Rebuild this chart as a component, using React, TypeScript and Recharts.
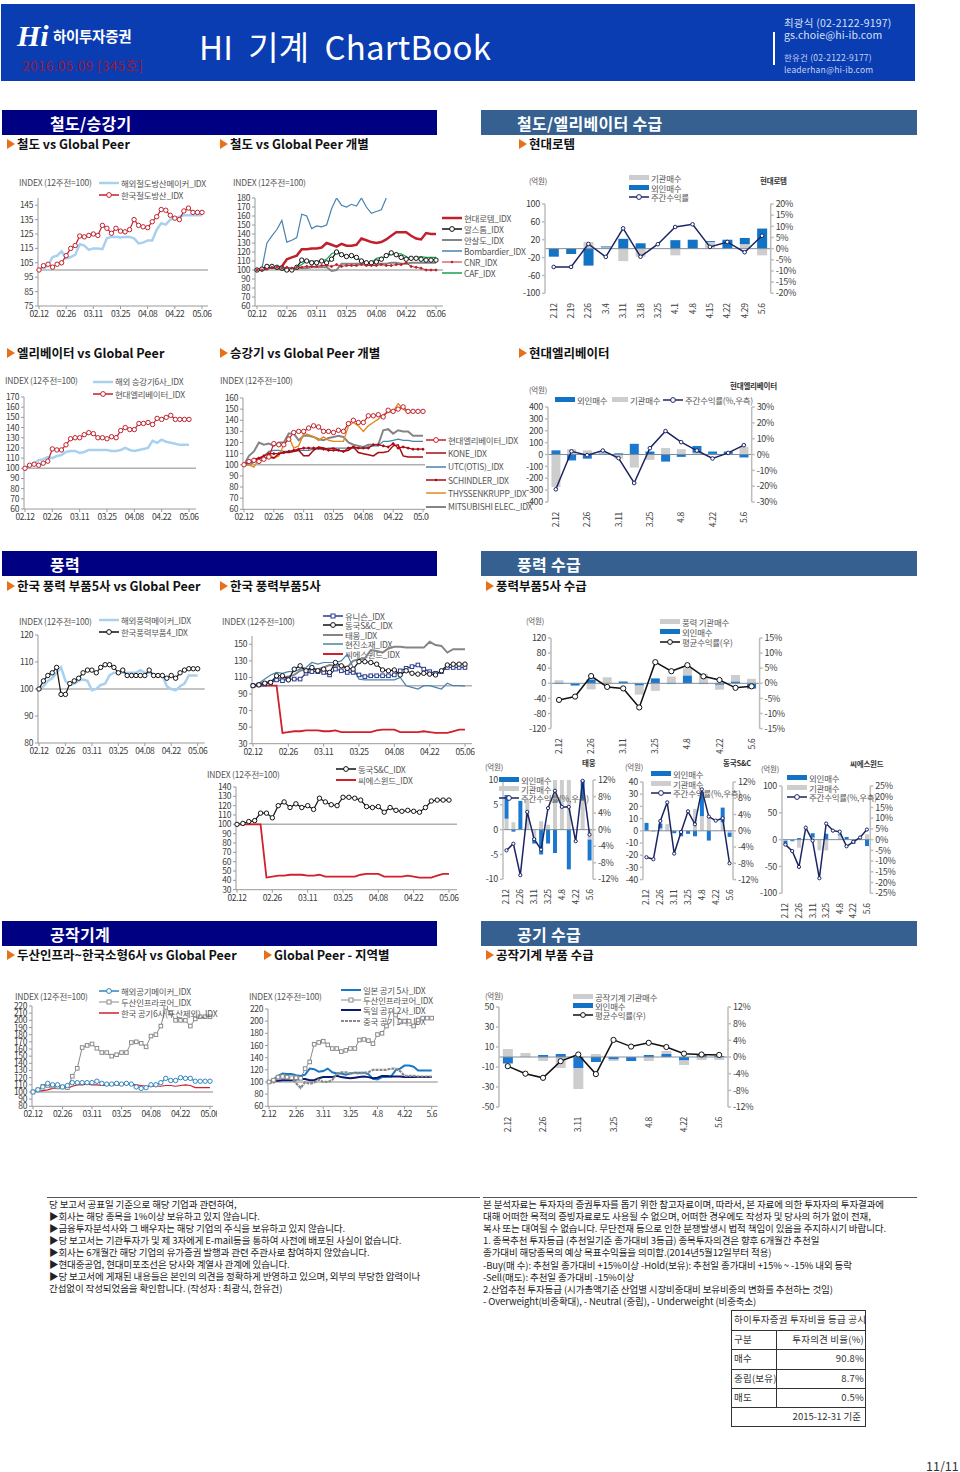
import { ComposedChart, Line, Bar, XAxis, YAxis, ReferenceLine } from 'recharts';

const FONT = '"Noto Sans CJK KR", "Noto Sans", sans-serif';

// roughly every other trading day, labels show only every 6th
const DATES = [
  '02.12', '02.15', '02.17', '02.19', '02.22', '02.24', '02.26', '02.29', '03.02', '03.04', '03.07', '03.09', '03.11',
  '03.14', '03.16', '03.18', '03.21', '03.23', '03.25', '03.28', '03.30', '04.01', '04.04', '04.06', '04.08',
  '04.11', '04.13', '04.15', '04.18', '04.20', '04.22', '04.25', '04.27', '04.29', '05.02', '05.04', '05.06',
];
const WEEKS = ['2.12', '2.19', '2.26', '3.4', '3.11', '3.18', '3.25', '4.1', '4.8', '4.15', '4.22', '4.29', '5.6'];

// chart 1, 2
const RAIL_FOREIGN = [100, 101, 103, 109, 110, 113, 108, 109, 110.5, 118, 117, 114, 115, 115, 114.5, 122, 123, 123, 122.5, 123, 123, 122, 118.5, 119, 120.5, 120.5, 128, 132.5, 131.5, 135, 136, 137, 138, 138, 138, 138, 138];
const RAIL_KOREA = [100, 103, 104, 102, 104, 105, 110, 115, 117, 123.6, 123, 124, 125, 124, 131, 129, 125.5, 129, 127, 126.5, 128, 135, 131, 130, 129.4, 133.5, 137, 142, 141.5, 138, 136, 135, 141, 143, 140, 140, 140];
const ROTEM = [100, 101, 103, 103, 102, 104, 112, 114, 116, 123, 123, 124, 124, 125, 130, 128, 126, 129, 127, 127, 128, 135, 133, 131, 130, 131, 134, 138, 142, 142, 142, 138, 135, 134, 141, 140, 140];
const ALSTOM = [100, 101, 104, 104, 103, 102, 100, 100, 103, 111, 110, 108, 108, 110, 108, 112, 120, 117, 115, 116, 114, 110, 108, 108, 109, 112, 116, 119, 117, 114, 112, 113, 113, 112, 111, 111, 111];
const ANSALDO = [100, 100, 101, 103, 102, 101, 101, 100, 102, 102, 102, 103, 103, 103, 103, 99, 100, 107, 107, 107, 107, 107, 107, 107, 107, 107, 107, 108, 108, 107, 107, 108, 108, 108, 108, 108, 108];
const BOMBARDIER = [100, 102, 130, 138, 145, 155, 131, 133, 136, 162, 160, 146, 149, 148, 150, 168, 180, 172, 170, 173, 171, 180, 170, 163, 165, 167, 180, null, null, null, null, null, null, null, null, null, null];
const CNR = [100, 100, 101, 103, 103, 102, 103, 102, 103, 103, 104, 104, 104, 105, 105, 104, 106, 104, 105, 105, 105, 106, 105, 105, 105, 106, 105, 105, 106, 106, 108, 104, 103, 102, 100, 100, 100];
const CAF = [100, 100, 103, 103, 102, 100, 99, 100, 103, 106, 110, 110, 110, 110, 112, 118, 120, 118, 115, 115, 113, 111, 108, 108, 113, 114, 114, 118, 118, 118, 115, 112, 114, 115, 114, 114, 114];

// chart 3, 4
const ELEV_FOREIGN = [100, 102, 105, 108, 109, 111, 110, 112, 113, 116, 117, 117, 115, 116, 118, 118, 118, 118, 118, 117, 117, 118, 120, 118, 117, 118, 119, 120, 127, 125, 128, 126, 125, 124, 123, 123, 123];
const HD_ELEV = [100, 103, 104, 103, 105, 107, 119, 118, 118, 123, 129, 130, 130, 133, 135, 134, 130, 130, 129, 131, 130, 137, 140, 138, 138, 144, 144, 145, 143, 149, 148, 150, 152, 148, 148, 148, 148];
const KONE = [100, 102, 103, 106, 106, 107, 106, 110, 111, 111, 112, 113, 108, 108, 113, 116, 115, 114, 115, 113, 112, 113, 116, 111, 110, 109, 108, 111, 111, 112, 117, 118, 108, 107, 107, 107, 107];
const UTC = [100, 100, 102, 105, 108, 112, 113, 113, 112, 112, 112, 113, 113, 113, 114, 114, 114, 115, 115, 115, 115, 115, 115, 115, 115, 116, 117, 117, 121, 121, 122, 123, 122, 122, 121, 121, 121];
const SCHINDLER = [100, 103, 105, 106, 108, 110, 110, 110, 111, 112, 113, 114, 115, 115, 115, 115, 114, 113, 113, 113, 112, 115, 116, 115, 115, 115, 118, 118, 117, 116, 119, 115, 116, 115, 114, 114, 114];
const THYSSEN = [100, 100, 98, 105, 108, 110, 106, 108, 118, 125, 115, 117, 128, 127, 125, 122, 125, 122, 121, 121, 121, 135, 138, 135, 130, 135, 138, 141, 145, 147, 148, 155, 150, 147, 148, 148, 148];
const MITSUBISHI = [100, 108, 112, 120, 118, 119, 117, 120, 120, 128, 128, 122, 126, 126, 125, 123, 122, 124, 125, 126, 125, 120, 118, 117, 116, 118, 118, 118, 131, 132, 128, 131, 130, 130, 126, 126, 126];

// chart 5 - 9
const WIND_FOREIGN = [100, 101, 103, 104, 106, 108, 103, 101.5, 102, 103, 103.5, 103, 99.5, 100, 101.5, 102, 105, 106, 106, 106, 106, 106, 106, 107, 106, 106, 105.5, 105, 105, 101, 100, 99.5, 101, 102, 105, 105, 105];
const WIND_KOREA = [100, 103, 105, 106, 108, 98, 98, 102, 103, 104, 106, 107, 107, 106, 108, 109, 109, 108, 106, 107, 105, 105, 105, 105, 105, 107, 105, 105, 105, 104, 105, 104, 106, 107, 107.5, 107.5, 107.5];
const UNISON = [100, 101, 102, 104, 107, 106, 108, 108, 108, 115, 117, 117, 116, 113, 120, 118, 116, 116, 113, 111, 112, 112, 112, 112, 113, 118, 121, 123, 125, 120, 117, 115, 117, 122, 122, 122, 122];
const DONGKUK = [100, 101, 103, 104, 112, 112, 107, 120, 124, 118, 122, 118, 120, 116, 128, 124, 121, 120, 129, 129, 128, 126, 119, 118, 119, 113, 118, 115, 114, 115, 114, 113, 118, 125, 126, 126, 126];
const TAEWOONG = [100, 102, 104, 105, 108, 110, 111, 113, 118, 120, 120, 120, 122, 125, 124, 124, 122, 130, 132, 133, 143, 142, 140, 145, 147, 147, 146, 146, 146, 146, 153, 149, 148, 140, 144, 144, 144];
const HYUNJIN = [100, 103, 108, 113, 116, 115, 117, 117, 120, 122, 128, 126, 128, 128, 128, 130, 138, 122, 108, 107, 107, 107, 107, 107, 107, 110, 100, 98, 96, 100, 100, 98, 96, 103, 100, 100, 99.5];
const CSWIND = [100, 100, 100, 100, 100, 43, 44, 45, 45, 46, 46, 46, 45, 45, 46, 44, 44, 44, 44, 44, 44, 46, 47, 47, 47, 44, 44, 44, 44, 45, 44, 43, 43, 43, 45, 47, 47];

// chart 10, 11
const TOOL_FOREIGN = [100, 103, 107, 112, 110, 110, 107, 109, 113, 113, 113, 113, 113, 115, 112, 111, 111, 112, 111, 112, 111, 107, 105, 106, 110, 110, 113, 119, 116, 116, 120, 119, 119, 115, 115, 115, 115];
const DOOSAN = [100, 103, 108, 109, 108, 107, 107, 106, 122, 133, 162, 165, 167, 161, 155, 155, 150, 152, 155, 155, 169, 170, 168, 163, 178, 180, 192, 218, 210, 200, 200, 200, 192, 202, 205, 205, 205];
const TOOL_KOREA = [100, 101, 102, 103, 105, 105, 106, 105, 108, 110, 110, 111, 110, 110, 109, 109, 110, 110, 110, 111, 111, 110, 109, 108, 108, 108, 108, 109, 109, 108, 109, 110, 109, 106, 106, 106, 106];
const TOOL_JAPAN = [100, 104, 110, 114, 113, 113, 111, 110, 112, 122, 121, 117, 118, 122, 116, 114, 114, 112, 114, 115, 115, 115, 113, 105, 104, 108, 108, 109, 119, 122, 127, 127, 125, 119, 119, 119, 119];
const TOOL_GERMANY = [100, 102, 102, 103, 103, 103, 104, 105, 105, 103, 103, 106, 108, 108, 108, 110, 108, 107, 106, 107, 108, 109, 108, 106, 107, 110, 110, 109, 109, 109, 108, 108, 108, 108, 108, 108, 108];
const TOOL_CHINA = [100, 99, 108, 110, 108, 106, 98, 90, 100, 97, 99, 104, 100, 100, 103, 114, 116, 116, 114, 115, 114, 115, 116, 120, 120, 120, 120, 122, 122, 118, 110, 110, 110, 109, 109, 109, 109];

// weekly flows (억원) and returns (%)
const ROTEM_INST = [0, 0, 15, 3, -28, -18, 0, -15, 0, 15, 0, 10, -15];
const ROTEM_FRGN = [-18, -12, -38, 2, 22, 12, 0, 19, 20, 2, 20, 14, 45];
const ROTEM_RET = [-8.2, -8.2, 2.1, -3.7, 9.1, -3.6, 2, 9.7, 10.9, 0.8, 3, -1.6, 5.8];
const ELEV_FRGN = [35, -50, -35, 5, 10, 90, 25, -60, -20, 57, 20, 20, -25];
const ELEV_INST = [-275, 45, 35, 10, -35, -110, -45, 55, 45, 15, 5, 5, 65];
const ELEV_RET = [-22, 2, -0.4, 2.5, -2.3, -18, 4, 14.8, 7.8, 2.5, -2.5, 1, 5.9];
const WIND_FRGN = [-2, -6, 10, 0, 5, -6, 13, -2, 21, -2, -4, 5, -14];
const WIND_INST = [8, 0, -16, 16, 1, -24, -20, 18, 19, 25, -13, 17, 12];
const WIND_RET = [-5.5, -4.4, 2.4, -1.2, -1.7, -8, 7, 4, 6, 2.3, 1.1, -1.5, -1];
const TW_INST = [2.2, 1.5, 0, 6, -1.8, 1.7, 1, 10, 10, 10, 0, 6, -2];
const TW_FRGN = [4.8, -0.4, 5.8, 0, -1, -5, -2.8, -4.7, 0, -8, 0, 4, -4.2];
const TW_RET = [-5, -3.4, -11, 4.3, -2.3, -4.8, 5.2, 9.4, 5.5, 5.5, -2.8, 11.8, -1.2];
const DK_INST = [0, -1, 2, 5.5, 0, -0.5, 0, 18, 12, 12, 0.5, 7, -1.5];
const DK_FRGN = [6.5, 0, 4, 0, -2, -4, -2.5, -4.5, 20, -8, 0, 12, -3.5];
const DK_RET = [-6.5, -7, 2.4, 7, -5.6, -0.3, 4.8, 1.6, 10.2, 3.5, 2.5, 3.1, -8];
const CS_FRGN = [-8, -2, 3, 0, 8, 0, 11, 0, 2, 5, -6, 0, -12];
const CS_INST = [-2, -1, -15, 2, 4, -20, -20, 1, 8, 0, -2, 1, 10];
const CS_RET = [-2.3, -5.3, -12.7, 5.6, -0.5, -18, 7.5, 4.2, 3.7, -3.1, -1, 1, 4.7];
const TOOL_FRGN = [-6.5, 0, 2, 3, -11, -5, -2.5, -4, 2, 3, -3.5, 2, 1];
const TOOL_INST = [8, 4, -4, -11, -21, 3, -1.5, 0, -4, 3, -4.5, -3, -3];
const TOOL_RET = [-2.2, -4, -5, -1, 0.6, -4.1, 4.1, 2.5, 3.4, 2.4, 0.8, 0.6, 0.5];

const NOTES_LEFT = [
  '당 보고서 공표일 기준으로 해당 기업과 관련하여,',
  '▶회사는 해당 종목을 1%이상 보유하고 있지 않습니다.',
  '▶금융투자분석사와 그 배우자는 해당 기업의 주식을 보유하고 있지 않습니다.',
  '▶당 보고서는 기관투자가 및 제 3자에게 E-mail등을 통하여 사전에 배포된 사실이 없습니다.',
  '▶회사는 6개월간 해당 기업의 유가증권 발행과 관련 주관사로 참여하지 않았습니다.',
  '▶현대중공업, 현대미포조선은 당사와 계열사 관계에 있습니다.',
  '▶당 보고서에 게재된 내용들은 본인의 의견을 정확하게 반영하고 있으며, 외부의 부당한 압력이나',
  '간섭없이 작성되었음을 확인합니다. (작성자 : 최광식, 한유건)',
];
const NOTES_RIGHT = [
  '본 분석자료는 투자자의 증권투자를 돕기 위한 참고자료이며, 따라서, 본 자료에 의한 투자자의 투자결과에',
  '대해 어떠한 목적의 증빙자료로도 사용될 수 없으며, 어떠한 경우에도 작성자 및 당사의 허가 없이 전재,',
  '복사 또는 대여될 수 없습니다. 무단전재 등으로 인한 분쟁발생시 법적 책임이 있음을 주지하시기 바랍니다.',
  '1. 종목추천 투자등급 (추천일기준 종가대비 3등급) 종목투자의견은 향후 6개월간 추천일',
  '종가대비 해당종목의 예상 목표수익율을 의미함.(2014년5월12일부터 적용)',
  '-Buy(매 수): 추천일 종가대비 +15%이상 -Hold(보유): 추천일 종가대비 +15% ~ -15% 내외 등락',
  '-Sell(매도): 추천일 종가대비 -15%이상',
  '2.산업추천 투자등급 (시가총액기준 산업별 시장비중대비 보유비중의 변화를 추천하는 것임)',
  '- Overweight(비중확대), - Neutral (중립), - Underweight (비중축소)',
];
const RATING_ROWS = [
  ['구분', '투자의견 비율(%)'],
  ['매수', '90.8%'],
  ['중립(보유)', '8.7%'],
  ['매도', '0.5%'],
];

const C = {
  tick: '#404040',
  axis: '#9a9a9a',
  base: '#b0b0b0',
  skyblue: '#a9d1ef',
  red: '#c0202c',
  black: '#111111',
  steel: '#4a82ad',
  gray: '#858585',
  green: '#16a34f',
  dred: '#a80b12',
  orange: '#e58a20',
  navy: '#1b2563',
  barBlue: '#1272c4',
  barGray: '#cdcdcd',
};

type Dot = 'circle' | 'square' | 'small' | undefined;
interface SeriesDef {
  name: string;
  values: (number | null)[];
  color: string;
  width: number;
  dot?: Dot;
  dash?: string;
}

function SquareDot(props: any) {
  const { cx, cy, stroke, index } = props;
  if (cx == null || cy == null) return <g key={index} />;
  return <rect key={index} x={cx - 1.8} y={cy - 1.8} width={3.6} height={3.6} fill="#fff" stroke={stroke} strokeWidth={1} />;
}

function dotFor(d: Dot, color: string): any {
  if (d === 'circle') return { r: 2.2, fill: '#fff', stroke: color, strokeWidth: 1 };
  if (d === 'small') return { r: 1, fill: color, stroke: color, strokeWidth: 1 };
  if (d === 'square') return SquareDot;
  return false;
}

const shortDate = (d: string) => `${parseInt(d.slice(0, 2), 10)}.${parseInt(d.slice(3), 10)}`;

function IndexChart(props: {
  x: number; y: number; w: number; h: number;
  padL: number; padR: number;
  domain: [number, number];
  ticks: number[];
  series: SeriesDef[];
  short?: boolean;
}) {
  const { x, y, w, h, padL, padR, domain, ticks, series, short } = props;
  const axW = 30;
  const axH = 20;
  const top = 4;
  const data = DATES.map((d, i) => {
    const row: Record<string, string | number | null> = { d };
    series.forEach(s => { row[s.name] = s.values[i]; });
    return row;
  });
  return (
    <div style={{ position: 'absolute', left: x - axW, top: y - top, letterSpacing: -0.4 }}>
      <ComposedChart width={axW + w + 4} height={top + h + axH} data={data} margin={{ top, right: 4, bottom: 0, left: 0 }}>
        <XAxis
          dataKey="d" scale="point" padding={{ left: padL, right: padR }} interval={5} height={axH}
          tick={{ fontSize: 8.5, fill: C.tick }} tickSize={3} stroke={C.axis}
          tickFormatter={short ? shortDate : undefined}
        />
        <YAxis
          width={axW} domain={domain} ticks={ticks} interval={0} allowDataOverflow
          tick={{ fontSize: 8.5, fill: C.tick }} tickSize={3} stroke={C.axis}
        />
        <ReferenceLine y={100} stroke={C.base} strokeWidth={1.5} />
        {series.map(s => (
          <Line
            key={s.name} dataKey={s.name} stroke={s.color} strokeWidth={s.width} strokeDasharray={s.dash}
            dot={dotFor(s.dot, s.color)} isAnimationActive={false} type="linear"
          />
        ))}
      </ComposedChart>
    </div>
  );
}

function FlowChart(props: {
  x: number; y: number; w: number; h: number;
  left: [number, number]; leftTicks: number[];
  right: [number, number]; rightTicks: number[];
  first: number[]; second: number[]; firstColor: string; secondColor: string;
  ret: number[]; retColor: string; dotR: number;
  interval: number;
}) {
  const { x, y, w, h, left, leftTicks, right, rightTicks, first, second, firstColor, secondColor, ret, retColor, dotR, interval } = props;
  const axL = 30;
  const axR = 34;
  const axH = 30;
  const top = 4;
  const data = WEEKS.map((d, i) => ({ d, first: first[i], second: second[i], ret: ret[i] }));
  return (
    <div style={{ position: 'absolute', left: x - axL, top: y - top, letterSpacing: -0.3 }}>
      <ComposedChart
        width={axL + w + axR} height={top + h + axH} data={data} stackOffset="sign" barCategoryGap="22%"
        margin={{ top, right: 0, bottom: 0, left: 0 }}
      >
        <XAxis
          dataKey="d" interval={interval} height={axH} axisLine={false} tickLine={false}
          tick={{ fontSize: 8.5, fill: C.tick }} angle={-90} textAnchor="end" dy={2} dx={-3}
        />
        <YAxis
          yAxisId="l" width={axL} domain={left} ticks={leftTicks} interval={0}
          tick={{ fontSize: 9, fill: C.tick }} tickSize={3} stroke="#bdbdbd" strokeWidth={1.5}
        />
        <YAxis
          yAxisId="r" orientation="right" width={axR} domain={right} ticks={rightTicks} interval={0}
          tick={{ fontSize: 9, fill: C.tick }} tickSize={3} stroke="#bdbdbd" strokeWidth={1.5}
          tickFormatter={(v: number) => `${v}%`}
        />
        <Bar yAxisId="l" dataKey="first" stackId="s" fill={firstColor} isAnimationActive={false} />
        <Bar yAxisId="l" dataKey="second" stackId="s" fill={secondColor} isAnimationActive={false} />
        <ReferenceLine yAxisId="l" y={0} stroke="#7f8c99" strokeWidth={1} />
        <Line
          yAxisId="r" dataKey="ret" stroke={retColor} strokeWidth={1.5} type="linear" isAnimationActive={false}
          dot={{ r: dotR, fill: '#fff', stroke: retColor, strokeWidth: 1 }}
        />
      </ComposedChart>
    </div>
  );
}

function T(props: { x: number; y: number; children: React.ReactNode; size?: number; color?: string; bold?: boolean; ls?: number; font?: string }) {
  const { x, y, children, size = 8.5, color = '#555', bold, ls = -0.2, font } = props;
  return (
    <span style={{
      position: 'absolute', left: x, top: y, transform: 'translateY(-50%)', fontSize: size, color, whiteSpace: 'pre',
      fontWeight: bold ? 700 : 400, letterSpacing: ls, lineHeight: 1, fontFamily: font || FONT,
    }}>
      {children}
    </span>
  );
}

function Section(props: { x: number; y: number; w: number; color: string; title: string; tx: number }) {
  const { x, y, w, color, title, tx } = props;
  return (
    <>
      <div style={{ position: 'absolute', left: x, top: y, width: w, height: 25, background: color }} />
      <T x={tx} y={y + 12.5} size={16} color="#fff" bold ls={0.3}>{title}</T>
    </>
  );
}

function Heading(props: { x: number; y: number; text: string }) {
  const { x, y, text } = props;
  return (
    <>
      <div style={{
        position: 'absolute', left: x, top: y - 5, width: 0, height: 0,
        borderTop: '5px solid transparent', borderBottom: '5px solid transparent', borderLeft: '8px solid #e8701a',
      }} />
      <T x={x + 10} y={y} size={12.5} color="#111" bold ls={0}>{text}</T>
    </>
  );
}

function Legend(props: { x: number; ys: number[]; items: { name: string; color: string; width?: number; dot?: Dot; bar?: boolean; dash?: string }[]; len?: number; gap?: number }) {
  const { x, ys, items, len = 20, gap = 2 } = props;
  return (
    <>
      {items.map((it, i) => (
        <div key={it.name} style={{ position: 'absolute', left: x, top: ys[i] - 5, height: 10, display: 'flex', alignItems: 'center' }}>
          <svg width={len} height={10} style={{ flex: 'none' }}>
            {it.bar
              ? <rect x={0} y={2} width={len} height={5} fill={it.color} />
              : <line x1={0} x2={len} y1={5} y2={5} stroke={it.color} strokeWidth={it.width || 1.5} strokeDasharray={it.dash} />}
            {it.dot === 'circle' && <circle cx={len / 2} cy={5} r={2.4} fill="#fff" stroke={it.color} />}
            {it.dot === 'square' && <rect x={len / 2 - 2} y={3} width={4} height={4} fill="#fff" stroke={it.color} />}
            {it.dot === 'small' && <circle cx={len / 2} cy={5} r={1.2} fill={it.color} />}
          </svg>
          <span style={{ marginLeft: gap, fontSize: 8.5, color: '#555', letterSpacing: -0.25, whiteSpace: 'pre', lineHeight: 1 }}>{it.name}</span>
        </div>
      ))}
    </>
  );
}

const range = (from: number, to: number, step: number) => {
  const out: number[] = [];
  for (let v = from; v <= to; v += step) out.push(v);
  return out;
};

const FRGN = (name: string) => ({ name, color: C.barBlue, bar: true });
const INST = (name: string) => ({ name, color: C.barGray, bar: true });
const RET = (name: string, color = C.navy) => ({ name, color, dot: 'circle' as Dot });

export default function App() {
  const idx = 'INDEX (12주전=100)';
  const doosan: SeriesDef = { name: '두산인프라코어_IDX', values: DOOSAN, color: '#8a8a8a', width: 1, dot: 'square' };
  const dongkuk: SeriesDef = { name: '동국S&C_IDX', values: DONGKUK, color: C.black, width: 1.2, dot: 'circle' };
  const cswind: SeriesDef = { name: '씨에스윈드_IDX', values: CSWIND, color: '#d0202c', width: 1.8 };
  const hdElev: SeriesDef = { name: '현대엘리베이터_IDX', values: HD_ELEV, color: C.red, width: 1.2, dot: 'circle' };

  const chart2: SeriesDef[] = [
    { name: '현대로템_IDX', values: ROTEM, color: C.red, width: 2.5 },
    { name: '알스톰_IDX', values: ALSTOM, color: C.black, width: 1.2, dot: 'circle' },
    { name: '안살도_IDX', values: ANSALDO, color: C.gray, width: 2 },
    { name: 'Bombardier_IDX', values: BOMBARDIER, color: C.steel, width: 1.2 },
    { name: 'CNR_IDX', values: CNR, color: C.red, width: 1, dot: 'small' },
    { name: 'CAF_IDX', values: CAF, color: C.green, width: 1.2 },
  ];
  const chart4: SeriesDef[] = [
    { name: 'MITSUBISHI ELEC._IDX', values: MITSUBISHI, color: C.gray, width: 2 },
    { name: 'UTC(OTIS)_IDX', values: UTC, color: C.steel, width: 1.2 },
    { name: 'THYSSENKRUPP_IDX', values: THYSSEN, color: C.orange, width: 1.4 },
    { name: 'KONE_IDX', values: KONE, color: C.dred, width: 1.5 },
    { name: 'SCHINDLER_IDX', values: SCHINDLER, color: C.dred, width: 1.2, dot: 'small' },
    hdElev,
  ];
  const chart6: SeriesDef[] = [
    { name: '태웅_IDX', values: TAEWOONG, color: C.gray, width: 2 },
    { name: '현진소재_IDX', values: HYUNJIN, color: C.steel, width: 1.2 },
    { name: '씨에스윈드_IDX', values: CSWIND, color: '#d0202c', width: 1.8 },
    { name: '유니슨_IDX', values: UNISON, color: '#2a3a8c', width: 1.2, dot: 'square' },
    dongkuk,
  ];
  const chart11: SeriesDef[] = [
    doosan,
    { name: '일본 공기 5사_IDX', values: TOOL_JAPAN, color: '#1a78c4', width: 2 },
    { name: '독일 공기 2사_IDX', values: TOOL_GERMANY, color: '#0a1a70', width: 2 },
    { name: '중국 공기 3사_IDX', values: TOOL_CHINA, color: '#8a8a8a', width: 2.2, dash: '3 1' },
  ];

  return (
    <div style={{ position: 'absolute', left: 0, top: 0, width: 960, height: 1472, background: '#fff', fontFamily: FONT, overflow: 'hidden' }}>
      {/* header */}
      <div style={{ position: 'absolute', left: 1, top: 4, width: 914, height: 77, background: '#0a3cb2' }} />
      <T x={17} y={36} size={30} color="#fff" bold font='"Liberation Serif", serif'><i>Hi</i></T>
      <T x={53} y={36} size={14.5} color="#fff" bold ls={-0.3}>하이투자증권</T>
      <T x={22} y={66} size={13.5} color="#9a1a3c" ls={0.4}>2016.05.09 [345호]</T>
      <T x={199} y={46} size={33} color="#fff" ls={0.2}>HI  기계  ChartBook</T>
      <div style={{ position: 'absolute', left: 773, top: 32, width: 2, height: 33, background: '#fff' }} />
      <T x={784} y={23} size={10.5} color="#d6e0f4" ls={0.2}>최광식 (02-2122-9197)</T>
      <T x={784} y={34.5} size={10.5} color="#d6e0f4" ls={0.1}>gs.choie@hi-ib.com</T>
      <T x={784} y={57} size={8.5} color="#c4d2ee" ls={0.2}>한유건 (02-2122-9177)</T>
      <T x={784} y={68.5} size={8.5} color="#c4d2ee" ls={0.2}>leaderhan@hi-ib.com</T>

      {/* sections */}
      <Section x={2} y={110} w={435} color="#000083" title="철도/승강기" tx={50} />
      <Section x={481} y={110} w={436} color="#35608f" title="철도/엘리베이터 수급" tx={517} />
      <Section x={2} y={551} w={435} color="#000083" title="풍력" tx={50} />
      <Section x={481} y={551} w={436} color="#35608f" title="풍력 수급" tx={517} />
      <Section x={2} y={921} w={435} color="#000083" title="공작기계" tx={50} />
      <Section x={481} y={921} w={436} color="#35608f" title="공기 수급" tx={517} />

      <Heading x={7} y={144} text="철도 vs Global Peer" />
      <Heading x={220} y={144} text="철도 vs Global Peer 개별" />
      <Heading x={519} y={144} text="현대로템" />
      <Heading x={7} y={353} text="엘리베이터 vs Global Peer" />
      <Heading x={220} y={353} text="승강기 vs Global Peer 개별" />
      <Heading x={519} y={353} text="현대엘리베이터" />
      <Heading x={7} y={586} text="한국 풍력 부품5사 vs Global Peer" />
      <Heading x={220} y={586} text="한국 풍력부품5사" />
      <Heading x={486} y={586} text="풍력부품5사 수급" />
      <Heading x={7} y={955} text="두산인프라~한국소형6사 vs Global Peer" />
      <Heading x={264} y={955} text="Global Peer - 지역별" />
      <Heading x={486} y={955} text="공작기계 부품 수급" />

      {/* rail */}
      <IndexChart
        x={37.7} y={198} w={170} h={108} padL={1} padR={6} domain={[75, 150]} ticks={range(75, 145, 10)}
        series={[
          { name: '해외철도방산메이커_IDX', values: RAIL_FOREIGN, color: C.skyblue, width: 2.5 },
          { name: '한국철도방산_IDX', values: RAIL_KOREA, color: C.red, width: 1.2, dot: 'circle' },
        ]}
      />
      <T x={19} y={182}>{idx}</T>
      <Legend x={99} ys={[183, 195]} items={[
        { name: '해외철도방산메이커_IDX', color: C.skyblue, width: 2.5 },
        { name: '한국철도방산_IDX', color: C.red, dot: 'circle' },
      ]} />

      <IndexChart x={255} y={198.3} w={188} h={108} padL={2} padR={7} domain={[60, 180]} ticks={range(60, 180, 10)} series={chart2} />
      <T x={233} y={182}>{idx}</T>
      <Legend x={442} ys={[218, 229, 240, 251, 262, 273]} len={20} gap={2} items={[
        { name: '현대로템_IDX', color: C.red, width: 2.5 },
        { name: '알스톰_IDX', color: C.black, dot: 'circle' },
        { name: '안살도_IDX', color: C.gray, width: 2 },
        { name: 'Bombardier_IDX', color: C.steel },
        { name: 'CNR_IDX', color: C.red, width: 1, dot: 'small' },
        { name: 'CAF_IDX', color: C.green },
      ]} />

      <FlowChart
        x={545} y={204} w={225.7} h={89.3} left={[-100, 100]} leftTicks={[-100, -60, -20, 20, 60, 100]}
        right={[-20, 20]} rightTicks={range(-20, 20, 5)}
        first={ROTEM_INST} second={ROTEM_FRGN} firstColor={C.barGray} secondColor={C.barBlue}
        ret={ROTEM_RET} retColor={C.navy} dotR={1.8} interval={0}
      />
      <T x={529} y={181} size={7.5}>(억원)</T>
      <T x={760} y={181} size={7.5} bold color="#333">현대로템</T>
      <Legend x={629} ys={[178, 188, 197]} items={[INST('기관매수'), FRGN('외인매수'), RET('주간수익률')]} />

      {/* elevator */}
      <IndexChart
        x={24} y={397.3} w={172} h={112} padL={1} padR={7} domain={[60, 170]} ticks={range(60, 170, 10)}
        series={[
          { name: '해외 승강기6사_IDX', values: ELEV_FOREIGN, color: C.skyblue, width: 2.5 },
          hdElev,
        ]}
      />
      <T x={5} y={380}>{idx}</T>
      <Legend x={93} ys={[381.7, 394]} items={[
        { name: '해외 승강기6사_IDX', color: C.skyblue, width: 2.5 },
        { name: '현대엘리베이터_IDX', color: C.red, dot: 'circle' },
      ]} />

      <IndexChart x={243} y={398} w={182} h={111.3} padL={1} padR={2} domain={[60, 160]} ticks={range(60, 160, 10)} series={chart4} />
      <T x={220} y={380}>{idx}</T>
      <Legend x={426} ys={[440, 453.3, 466.7, 480, 493, 506.7]} items={[
        { name: '현대엘리베이터_IDX', color: C.red, dot: 'circle' },
        { name: 'KONE_IDX', color: C.dred },
        { name: 'UTC(OTIS)_IDX', color: C.steel },
        { name: 'SCHINDLER_IDX', color: C.dred, dot: 'small' },
        { name: 'THYSSENKRUPP_IDX', color: C.orange },
        { name: 'MITSUBISHI ELEC._IDX', color: C.gray, width: 2 },
      ]} />

      <FlowChart
        x={548} y={406.7} w={203.7} h={95} left={[-400, 400]} leftTicks={range(-400, 400, 100)}
        right={[-30, 30]} rightTicks={range(-30, 30, 10)}
        first={ELEV_INST} second={ELEV_FRGN} firstColor={C.barGray} secondColor="#1b78d0"
        ret={ELEV_RET} retColor={C.navy} dotR={1.8} interval={1}
      />
      <T x={529} y={390} size={7.5}>(억원)</T>
      <T x={730} y={386} size={7.5} bold color="#333">현대엘리베이터</T>
      <Legend x={555} ys={[400]} items={[FRGN('외인매수')]} />
      <Legend x={612} ys={[400]} len={16} items={[INST('기관매수')]} />
      <Legend x={663} ys={[400]} items={[RET('주간수익률(%,우측)')]} />

      {/* wind */}
      <IndexChart
        x={38.3} y={635.3} w={166.7} h={108} padL={1} padR={7} domain={[80, 120]} ticks={range(80, 120, 10)}
        series={[
          { name: '해외풍력메이커_IDX', values: WIND_FOREIGN, color: C.skyblue, width: 2.5 },
          { name: '한국풍력부품4_IDX', values: WIND_KOREA, color: C.black, width: 1.2, dot: 'circle' },
        ]}
      />
      <T x={19} y={621}>{idx}</T>
      <Legend x={99} ys={[620, 632]} items={[
        { name: '해외풍력메이커_IDX', color: C.skyblue, width: 2.5 },
        { name: '한국풍력부품4_IDX', color: C.black, dot: 'circle' },
      ]} />

      <Legend x={323} ys={[616, 625, 635, 644, 654]} items={[
        { name: '유니슨_IDX', color: '#2a3a8c', dot: 'square' },
        { name: '동국S&C_IDX', color: C.black, dot: 'circle' },
        { name: '태웅_IDX', color: C.gray, width: 2 },
        { name: '현진소재_IDX', color: C.steel },
        { name: '씨에스윈드_IDX', color: '#d0202c', width: 2 },
      ]} />
      <IndexChart x={251.7} y={636} w={220} h={107.7} padL={1} padR={7} domain={[30, 160]} ticks={range(30, 150, 20)} series={chart6} />
      <T x={222} y={621}>{idx}</T>

      <IndexChart x={235.7} y={787.3} w={221} h={102.7} padL={1} padR={8} domain={[30, 140]} ticks={range(30, 140, 10)} series={[dongkuk, cswind]} />
      <T x={207} y={774}>{idx}</T>
      <Legend x={336} ys={[769, 780]} items={[
        { name: '동국S&C_IDX', color: C.black, dot: 'circle' },
        { name: '씨에스윈드_IDX', color: '#d0202c', width: 2 },
      ]} />

      <FlowChart
        x={550.7} y={637.7} w={208.6} h={90.6} left={[-120, 120]} leftTicks={range(-120, 120, 40)}
        right={[-15, 15]} rightTicks={range(-15, 15, 5)}
        first={WIND_FRGN} second={WIND_INST} firstColor="#1b78d0" secondColor={C.barGray}
        ret={WIND_RET} retColor={C.black} dotR={2.6} interval={1}
      />
      <T x={526} y={621} size={7.5}>(억원)</T>
      <Legend x={660} ys={[622, 632, 642]} items={[INST('풍력 기관매수'), FRGN('외인매수'), RET('평균수익률(우)', C.black)]} />

      <FlowChart
        x={502.7} y={780} w={90} h={99.3} left={[-10, 10]} leftTicks={[-10, -5, 0, 5, 10]}
        right={[-12, 12]} rightTicks={range(-12, 12, 4)}
        first={TW_INST} second={TW_FRGN} firstColor={C.barGray} secondColor="#1b78d0"
        ret={TW_RET} retColor={C.navy} dotR={1.6} interval={1}
      />
      <T x={485} y={767} size={7.5}>(억원)</T>
      <T x={582} y={763} size={7.5} bold color="#333">태웅</T>
      <Legend x={499} ys={[780, 789, 798]} items={[FRGN('외인매수'), INST('기관매수'), RET('주간수익률(%,우측)')]} />

      <FlowChart
        x={643.3} y={781.7} w={90} h={97.6} left={[-40, 40]} leftTicks={range(-40, 40, 10)}
        right={[-12, 12]} rightTicks={range(-12, 12, 4)}
        first={DK_INST} second={DK_FRGN} firstColor={C.barGray} secondColor="#1b78d0"
        ret={DK_RET} retColor={C.navy} dotR={1.6} interval={1}
      />
      <T x={625} y={767} size={7.5}>(억원)</T>
      <T x={723} y={763} size={7.5} bold color="#333">동국S&C</T>
      <Legend x={651} ys={[774, 784, 793]} items={[FRGN('외인매수'), INST('기관매수'), RET('주간수익률(%,우측)')]} />

      <FlowChart
        x={781.7} y={786} w={88.3} h={107.3} left={[-100, 100]} leftTicks={[-100, -50, 0, 50, 100]}
        right={[-25, 25]} rightTicks={range(-25, 25, 5)}
        first={CS_INST} second={CS_FRGN} firstColor={C.barGray} secondColor="#1b78d0"
        ret={CS_RET} retColor={C.navy} dotR={1.6} interval={1}
      />
      <T x={761} y={769} size={7.5}>(억원)</T>
      <T x={850} y={764} size={7.5} bold color="#333">씨에스윈드</T>
      <Legend x={787} ys={[778, 788, 797]} items={[FRGN('외인매수'), INST('기관매수'), RET('주간수익률(%,우측)')]} />

      {/* machine tools */}
      <IndexChart
        x={32.3} y={1006} w={181} h={100.3} padL={1} padR={3} domain={[80, 220]} ticks={range(80, 220, 10)}
        series={[
          { name: '두산인프라코어_IDX', values: DOOSAN, color: '#8a8a8a', width: 1, dot: 'square' },
          { name: '해외공기메이커_IDX', values: TOOL_FOREIGN, color: '#2e86bd', width: 1.2, dot: 'circle' },
          { name: '한국 공기6사(두산제외)_IDX', values: TOOL_KOREA, color: '#d0202c', width: 1.2 },
        ]}
      />
      <T x={15} y={996}>{idx}</T>
      <Legend x={99} ys={[991, 1002, 1013]} items={[
        { name: '해외공기메이커_IDX', color: '#2e86bd', dot: 'circle' },
        { name: '두산인프라코어_IDX', color: '#8a8a8a', width: 1, dot: 'square' },
        { name: '한국 공기6사(두산제외)_IDX', color: '#d0202c' },
      ]} />

      <Legend x={341} ys={[990, 1000, 1010, 1021]} items={[
        { name: '일본 공기 5사_IDX', color: '#1a78c4', width: 2 },
        { name: '두산인프라코어_IDX', color: '#8a8a8a', width: 1, dot: 'square' },
        { name: '독일 공기 2사_IDX', color: '#0a1a70', width: 2 },
        { name: '중국 공기 3사_IDX', color: '#8a8a8a', width: 2.2, dash: '3 1' },
      ]} />
      <IndexChart x={268.3} y={1009} w={169.7} h={97.3} padL={1} padR={6} domain={[60, 220]} ticks={range(60, 220, 20)} series={chart11} short />
      <T x={249} y={996}>{idx}</T>

      <FlowChart
        x={499.3} y={1007.3} w={229} h={100} left={[-50, 50]} leftTicks={[-50, -30, -10, 10, 30, 50]}
        right={[-12, 12]} rightTicks={range(-12, 12, 4)}
        first={TOOL_FRGN} second={TOOL_INST} firstColor="#1b78d0" secondColor={C.barGray}
        ret={TOOL_RET} retColor={C.black} dotR={2.6} interval={1}
      />
      <T x={485} y={996} size={7.5}>(억원)</T>
      <Legend x={573} ys={[997, 1006, 1015]} items={[INST('공작기계 기관매수'), FRGN('외인매수'), RET('평균수익률(우)', C.black)]} />

      {/* disclosures */}
      <div style={{ position: 'absolute', left: 47, top: 1197, width: 433, height: 1, background: '#555' }} />
      <div style={{ position: 'absolute', left: 483, top: 1197, width: 434, height: 1, background: '#555' }} />
      {NOTES_LEFT.map((line, i) => (
        <T key={line} x={49} y={1204.5 + i * 12.1} size={9.5} color="#222" ls={-0.1}>{line}</T>
      ))}
      {NOTES_RIGHT.map((line, i) => (
        <T key={line} x={483} y={1205 + i * 12.1} size={9.5} color="#222" ls={-0.1}>{line}</T>
      ))}

      {/* rating table */}
      <div style={{ position: 'absolute', left: 731, top: 1310, width: 133, height: 115, border: '1px solid #333', boxSizing: 'content-box' }} />
      <T x={734} y={1320} size={9.5} color="#333" ls={0.2}>하이투자증권 투자비율 등급 공시</T>
      {RATING_ROWS.map((row, i) => (
        <div key={row[0]}>
          <div style={{ position: 'absolute', left: 731, top: 1330 + i * 19.3, width: 134, height: 1, background: '#333' }} />
          <T x={734} y={1340 + i * 19.3} size={9.5} color="#333" ls={0.2}>{row[0]}</T>
          <span style={{ position: 'absolute', right: 960 - 864, top: 1340 + i * 19.3, transform: 'translateY(-50%)', fontSize: 9.5, color: '#333', lineHeight: 1, letterSpacing: 0.2 }}>{row[1]}</span>
        </div>
      ))}
      <div style={{ position: 'absolute', left: 731, top: 1407, width: 134, height: 1, background: '#333' }} />
      <div style={{ position: 'absolute', left: 776, top: 1330, width: 1, height: 77, background: '#333' }} />
      <span style={{ position: 'absolute', right: 960 - 861, top: 1416.5, transform: 'translateY(-50%)', fontSize: 9.5, color: '#333', lineHeight: 1 }}>2015-12-31 기준</span>

      <T x={926} y={1466} size={12.5} color="#333" ls={0}>11/11</T>
    </div>
  );
}
